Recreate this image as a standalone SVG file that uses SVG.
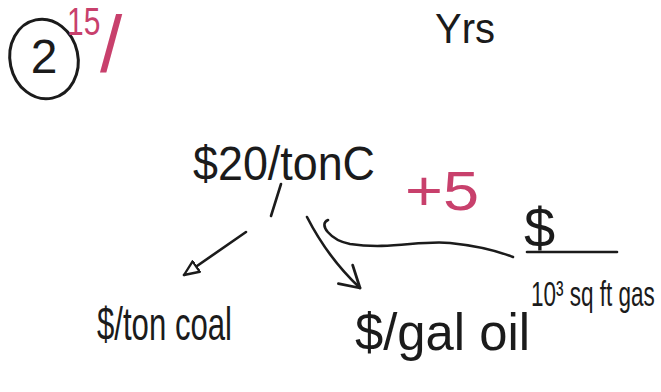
<svg xmlns="http://www.w3.org/2000/svg" width="661" height="392" viewBox="0 0 661 392">
  <style>
    .ink { fill: #1b1b1b; font-family: "Liberation Sans", "DejaVu Sans", sans-serif; }
    .red { fill: #c8406c; font-family: "Liberation Sans", "DejaVu Sans", sans-serif; }
    .line { fill: none; stroke: #1b1b1b; stroke-width: 2.6; stroke-linecap: round; stroke-linejoin: round; }
  </style>
  <defs>
    <marker id="openTri" viewBox="0 0 16 16" refX="15" refY="8" markerWidth="17" markerHeight="17" orient="auto" markerUnits="userSpaceOnUse">
      <path d="M1,2 L15,8 L1,14 Z" fill="#fff" stroke="#1b1b1b" stroke-width="2.2" stroke-linejoin="round"/>
    </marker>
    <marker id="vHead" viewBox="0 0 24 24" refX="22" refY="12" markerWidth="28" markerHeight="28" orient="auto" markerUnits="userSpaceOnUse">
      <path d="M4,2 L22,12 L6,22" fill="none" stroke="#1b1b1b" stroke-width="2.4" stroke-linecap="round" stroke-linejoin="round"/>
    </marker>
  </defs>
  <rect width="661" height="392" fill="#ffffff"/>

  <g id="problem-number">
    <ellipse cx="44" cy="59" rx="34" ry="40" transform="rotate(-12 44 59)" fill="none" stroke="#1b1b1b" stroke-width="3"/>
    <text class="ink" x="44" y="73" font-size="48" text-anchor="middle">2</text>
  </g>

  <g id="score">
    <text class="red" font-size="30" transform="translate(67,35) scale(1,1.3)">15</text>
    <text class="red" x="100" y="72" font-size="80">/</text>
  </g>

  <g id="yrs">
    <text class="ink" x="435" y="43" font-size="42" textLength="60" lengthAdjust="spacingAndGlyphs">Yrs</text>
  </g>

  <g id="root">
    <text class="ink" x="193" y="180" font-size="48" textLength="182" lengthAdjust="spacingAndGlyphs">$20/tonC</text>
  </g>

  <g id="plus5">
    <text class="red" x="405" y="210" font-size="56" textLength="74" lengthAdjust="spacingAndGlyphs">+5</text>
  </g>

  <g id="coal">
    <text class="ink" x="97" y="340" font-size="46" textLength="135" lengthAdjust="spacingAndGlyphs">$/ton coal</text>
  </g>

  <g id="oil">
    <text class="ink" x="355" y="350" font-size="52" textLength="175" lengthAdjust="spacingAndGlyphs">$/gal oil</text>
  </g>

  <g id="gas">
    <text class="ink" x="524" y="247" font-size="56">$</text>
    <line class="line" x1="527" y1="252" x2="617" y2="252"/>
    <text class="ink" font-size="22.5" transform="translate(531,306) scale(1,1.6)">10³ sq ft gas</text>
  </g>

  <g id="connectors">
    <line class="line" x1="281" y1="184" x2="271" y2="216"/>
    <line class="line" x1="246" y1="232" x2="184" y2="275" marker-end="url(#openTri)"/>
    <path class="line" d="M307,217 Q328,258 360,288" marker-end="url(#vHead)"/>
    <path class="line" d="M328,220 C318,224 330,240 350,244 C390,250 420,240 450,243 C480,246 500,252 513,257"/>
  </g>
</svg>
